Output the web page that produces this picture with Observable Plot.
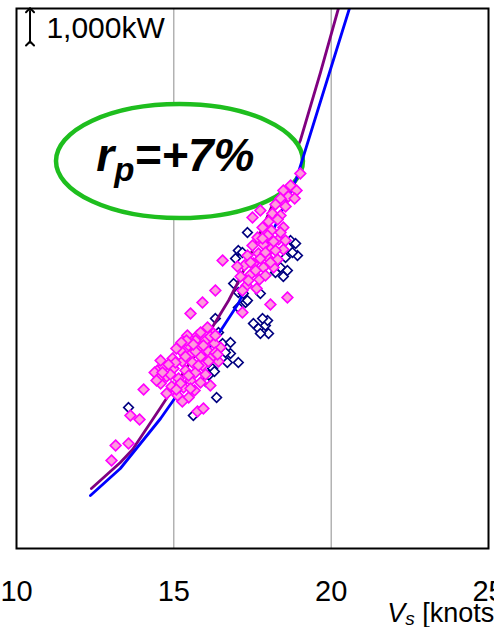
<!DOCTYPE html>
<html><head><meta charset="utf-8">
<script src="https://cdn.jsdelivr.net/npm/d3@7"></script>
<script src="https://cdn.jsdelivr.net/npm/@observablehq/plot@0.6"></script>
<style>body{margin:0;background:#fff}</style>
</head><body><div id="chart"></div>
<script>
// x: ship speed Vs [knots]; y: shaft power [kW] (no y tick labels; scale bar 1,000 kW)
const speedTicks = [10, 15, 20, 25];
const gridSpeeds = [15, 20];

// Curve 1 (purple) and curve 2 (blue)
const purpleSpeed = [12.38, 13.30, 13.69, 14.58, 15.85, 16.74, 17.12, 18.07, 19.02, 19.66, 20.23, 20.36];
const purplePower = [1800, 2580, 2970, 4230, 6060, 7440, 8130, 10170, 12240, 14280, 16200, 16620];
const blueSpeed = [12.35, 13.30, 14.58, 15.85, 17.05, 18.01, 18.90, 19.72, 20.58, 20.68];
const bluePower = [1590, 2400, 3900, 5610, 7350, 9240, 11100, 13590, 16200, 16500];

// Pink filled diamonds
const pinkSpeed = [13.02,13.15,13.56,13.62,13.91,14.04,15.75,15.94,15.91,15.53,17.18,18.07,15.43,15.75,16.42,16.48,14.48,16.55,16.32,18.61,17.50,17.75,19.02,
  18.48,18.71,18.90,18.64,18.39,18.84,18.23,18.55,18.13,18.39,
  18.01,18.30,17.82,18.10,18.48,17.66,17.98,18.33,17.50,17.85,18.10,18.48,17.34,17.69,17.98,18.30,17.24,17.53,17.85,18.17,17.12,17.44,17.72,17.31,17.63,17.02,17.91,
  17.44,17.75,18.07,17.60,17.91,18.23,17.82,18.17,17.37,18.39,18.55,17.18,
  16.07,16.26,15.85,15.69,16.01,16.29,15.47,15.78,16.10,15.21,15.53,15.85,16.16,14.96,15.27,15.59,15.91,14.67,14.99,15.37,15.69,16.01,14.39,14.77,15.15,15.53,15.85,14.58,14.93,15.31,15.66,14.77,15.12,15.47,15.27,15.40,15.08,16.32,14.58,16.16,
  14.51,15.05,15.37,15.69,15.94,16.16,14.89,15.21,15.53,14.64,15.08,15.47,15.78,16.10,16.39,16.32,14.83,15.24,14.45,15.62];
const pinkPower = [2640,3090,3150,3990,3870,4770,4110,4200,7380,7050,7080,7320,6390,6390,5610,6030,5340,8640,7740,7530,9930,10140,11250,
  10740,10890,10740,10560,10500,10500,10320,10260,10050,9990,
  9810,9870,9630,9540,9630,9330,9390,9270,9090,9120,9000,8970,8790,8850,8730,8670,8490,8550,8430,8430,8160,8220,8070,7890,7800,8460,8190,
  8580,8700,8580,8340,8880,8940,9300,9210,8040,9480,9240,7740,
  6630,6450,6480,6240,6240,6150,6090,6000,5910,5940,5820,5760,5700,5700,5610,5580,5490,5460,5400,5340,5280,5220,5280,5160,5100,5040,4980,4950,4860,4830,4740,4650,4590,4530,4410,6240,6000,5880,5640,4890,
  5100,5580,5760,5910,6090,6360,5220,4950,4800,5280,4770,5190,5490,5610,5820,6390,5520,6180,5040,6120];

// Navy hollow diamonds
const navySpeed = [13.56,15.62,16.36,16.10,16.23,16.29,16.70,17.05,16.80,16.55,16.80,16.42,16.32,16.64,17.53,17.69,17.91,18.01,17.75,17.98,17.82,17.05,17.28,17.34,17.05,17.18,16.96,16.90,17.05,17.21,17.75,17.34,18.71,18.87,18.64,18.93,18.55,18.39,18.61,18.23,18.48,18.77,16.01];
const navyPower = [4230,3990,4530,5190,5400,5310,5580,5580,5850,6150,6180,6480,6900,5880,6750,6600,6690,6450,6450,6840,6900,7230,7380,9480,8940,8880,8700,7950,7680,7650,7650,7440,9240,9150,9030,8790,8730,8430,8340,8280,8160,8880,5010];

// Annotations
const scaleBar = {speed: 10.43, from: 15150, to: 16150, label: "1,000kW", labelSpeed: 10.95, labelPower: 15600};
const ellipseSpec = {speed: 15.195, power: 11610, rSpeed: 3.924, rPower: 1710};
const rpLabel = {speed: 12.55, power: 11310, main: "r", sub: "p", rest: "=+7%"};
const xLabel = {speed: 21.8, main: "V", sub: "s", rest: " [knots]"};

const FONT = "Liberation Sans, Arial, Helvetica, sans-serif";
const NS = "http://www.w3.org/2000/svg";

function ellipseMark(index, scales) {
  const cx = scales.x(ellipseSpec.speed), cy = scales.y(ellipseSpec.power);
  const rx = scales.x(ellipseSpec.speed + ellipseSpec.rSpeed) - cx;
  const ry = cy - scales.y(ellipseSpec.power + ellipseSpec.rPower);
  const e = document.createElementNS(NS, "ellipse");
  e.setAttribute("cx", cx); e.setAttribute("cy", cy);
  e.setAttribute("rx", rx); e.setAttribute("ry", ry);
  e.setAttribute("fill", "white"); e.setAttribute("stroke", "#1ebe1e");
  e.setAttribute("stroke-width", 4.5);
  return e;
}

function richText(x, y, size, subSize, dySub, parts, weight, style) {
  const t = document.createElementNS(NS, "text");
  t.setAttribute("x", x); t.setAttribute("y", y);
  t.setAttribute("text-anchor", "start");
  t.setAttribute("font-family", FONT);
  t.setAttribute("font-size", size);
  t.setAttribute("fill", "black");
  if (weight) t.setAttribute("font-weight", weight);
  const a = document.createElementNS(NS, "tspan");
  a.setAttribute("font-style", "italic"); a.textContent = parts[0];
  const b = document.createElementNS(NS, "tspan");
  b.setAttribute("font-style", "italic"); b.setAttribute("font-size", subSize);
  b.setAttribute("dy", dySub); b.textContent = parts[1];
  const c = document.createElementNS(NS, "tspan");
  c.setAttribute("dy", -dySub); c.textContent = parts[2];
  if (style) c.setAttribute("font-style", style);
  t.append(a, b, c);
  return t;
}

function rpMark(index, scales) {
  return richText(scales.x(rpLabel.speed), scales.y(rpLabel.power), 46, 33, 10,
    [rpLabel.main, rpLabel.sub, rpLabel.rest], "bold", "italic");
}

function xLabelMark(index, scales, values, dims) {
  return richText(scales.x(xLabel.speed), dims.height - 5, 27, 19, 3,
    [xLabel.main, xLabel.sub, xLabel.rest], null, null);
}

const chart = Plot.plot({
  width: 494,
  height: 627,
  marginLeft: 16,
  marginRight: 6,
  marginTop: 8,
  marginBottom: 79,
  style: {fontFamily: FONT, background: "white", overflow: "visible"},
  x: {domain: [10, 25], ticks: speedTicks},
  y: {domain: [0, 16200], axis: null},
  marks: [
    Plot.ruleX(gridSpeeds, {stroke: "#8c8c8c", strokeWidth: 1}),
    Plot.dot(navySpeed, {x: navySpeed, y: navyPower, symbol: "diamond2", r: 4.3, fill: "white", stroke: "#000080", strokeWidth: 1.7}),
    Plot.line(purpleSpeed, {x: purpleSpeed, y: purplePower, stroke: "#800080", strokeWidth: 2.8, clip: true}),
    ellipseMark,
    Plot.line(blueSpeed, {x: blueSpeed, y: bluePower, stroke: "#0000ff", strokeWidth: 2.8, clip: true}),
    Plot.dot(pinkSpeed, {x: pinkSpeed, y: pinkPower, symbol: "diamond2", r: 4.8, fill: "#ff99dd", stroke: "#ff00ff", strokeWidth: 1.7}),
    rpMark,
    Plot.link([scaleBar], {x1: "speed", x2: "speed", y1: "from", y2: "to", stroke: "black", strokeWidth: 2, markerStart: "arrow", markerEnd: "arrow"}),
    Plot.text([scaleBar], {x: "labelSpeed", y: "labelPower", text: "label", textAnchor: "start", lineAnchor: "middle", fontSize: 30, fill: "black"}),
    Plot.axisX(speedTicks, {tickSize: 0, tickPadding: 32, fontSize: 29, label: null, fill: "black"}),
    xLabelMark,
    Plot.frame({stroke: "black", strokeWidth: 2})
  ]
});
document.getElementById("chart").append(chart);
</script>
</body></html>
